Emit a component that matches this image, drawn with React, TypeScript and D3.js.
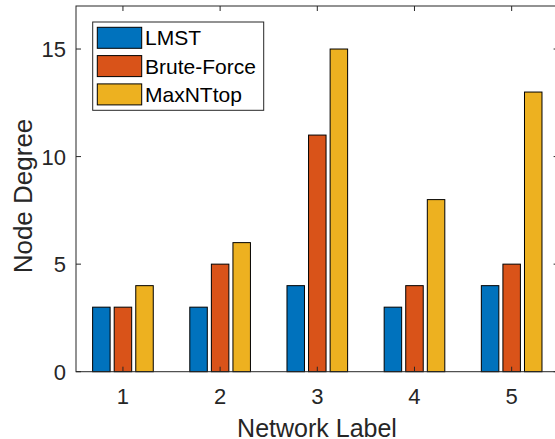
import React, { useEffect, useRef } from "react";
import * as d3 from "d3";

const networks = [1, 2, 3, 4, 5];
const seriesNames = ["LMST", "Brute-Force", "MaxNTtop"];
const lmst = [3, 3, 4, 3, 4];
const bruteForce = [3, 5, 11, 4, 5];
const maxNTtop = [4, 6, 15, 8, 13];
const yTicks = [0, 5, 10, 15];
const colors = ["#0072BD", "#D95319", "#EDB120"];

const App = () => {
  const ref = useRef<SVGSVGElement>(null);
  const width = 555,
    height = 439;

  useEffect(() => {
    const svg = d3.select(ref.current);
    svg.selectAll("*").remove();

    const left = 76,
      top = 6,
      right = 558.6,
      bottom = 371.7;
    const font = "'Liberation Sans', Arial, sans-serif";
    const axisColor = "#262626";

    const x = d3.scaleLinear().domain([0.517, 5.483]).range([left, right]);
    const y = d3.scaleLinear().domain([0, 17]).range([bottom, top]);

    const series = [lmst, bruteForce, maxNTtop];
    const offsets = [-0.222, 0, 0.222];
    const barW = 0.18;

    const g = svg.append("g");
    series.forEach((vals, si) => {
      g.selectAll(null)
        .data(vals)
        .enter()
        .append("rect")
        .attr("x", (d, i) => x(networks[i] + offsets[si] - barW / 2))
        .attr("width", x(barW) - x(0))
        .attr("y", (d) => y(d))
        .attr("height", (d) => y(0) - y(d))
        .attr("fill", colors[si])
        .attr("stroke", "#000")
        .attr("stroke-width", 1);
    });

    // box
    svg
      .append("rect")
      .attr("x", left)
      .attr("y", top)
      .attr("width", right - left)
      .attr("height", bottom - top)
      .attr("fill", "none")
      .attr("stroke", axisColor)
      .attr("stroke-width", 1);

    // x ticks (inward, bottom and top)
    networks.forEach((n) => {
      svg.append("line").attr("x1", x(n)).attr("x2", x(n)).attr("y1", bottom).attr("y2", bottom - 5).attr("stroke", axisColor);
      svg.append("line").attr("x1", x(n)).attr("x2", x(n)).attr("y1", top).attr("y2", top + 5).attr("stroke", axisColor);
      svg
        .append("text")
        .attr("x", x(n))
        .attr("y", 404)
        .attr("text-anchor", "middle")
        .attr("font-family", font)
        .attr("font-size", 22)
        .attr("fill", axisColor)
        .text(n);
    });

    yTicks.forEach((t) => {
      svg.append("line").attr("x1", left).attr("x2", left + 5).attr("y1", y(t)).attr("y2", y(t)).attr("stroke", axisColor);
      svg.append("line").attr("x1", right).attr("x2", right - 5).attr("y1", y(t)).attr("y2", y(t)).attr("stroke", axisColor);
      svg
        .append("text")
        .attr("x", 66)
        .attr("y", y(t))
        .attr("dy", "0.36em")
        .attr("text-anchor", "end")
        .attr("font-family", font)
        .attr("font-size", 22)
        .attr("fill", axisColor)
        .text(t);
    });

    svg
      .append("text")
      .attr("x", 317)
      .attr("y", 437)
      .attr("text-anchor", "middle")
      .attr("font-family", font)
      .attr("font-size", 25)
      .attr("fill", axisColor)
      .text("Network Label");

    svg
      .append("text")
      .attr("transform", `translate(32, 196) rotate(-90)`)
      .attr("text-anchor", "middle")
      .attr("font-family", font)
      .attr("font-size", 26)
      .attr("fill", axisColor)
      .text("Node Degree");

    // legend
    const lg = svg.append("g");
    lg.append("rect")
      .attr("x", 92.7)
      .attr("y", 22)
      .attr("width", 171)
      .attr("height", 88.3)
      .attr("fill", "#fff")
      .attr("stroke", axisColor)
      .attr("stroke-width", 1);
    seriesNames.forEach((name, i) => {
      const ry = 27.3 + i * 28.3;
      lg.append("rect")
        .attr("x", 97.3)
        .attr("y", ry)
        .attr("width", 44.4)
        .attr("height", 21)
        .attr("fill", colors[i])
        .attr("stroke", "#000");
      lg.append("text")
        .attr("x", 145)
        .attr("y", ry + 10.5)
        .attr("dy", "0.36em")
        .attr("font-family", font)
        .attr("font-size", 21)
        .attr("fill", "#000")
        .text(name);
    });
  }, []);

  return (
    <svg
      ref={ref}
      width={width}
      height={height}
      style={{ position: "absolute", left: 0, top: 0, background: "#fff" }}
    ></svg>
  );
};

export default App;
